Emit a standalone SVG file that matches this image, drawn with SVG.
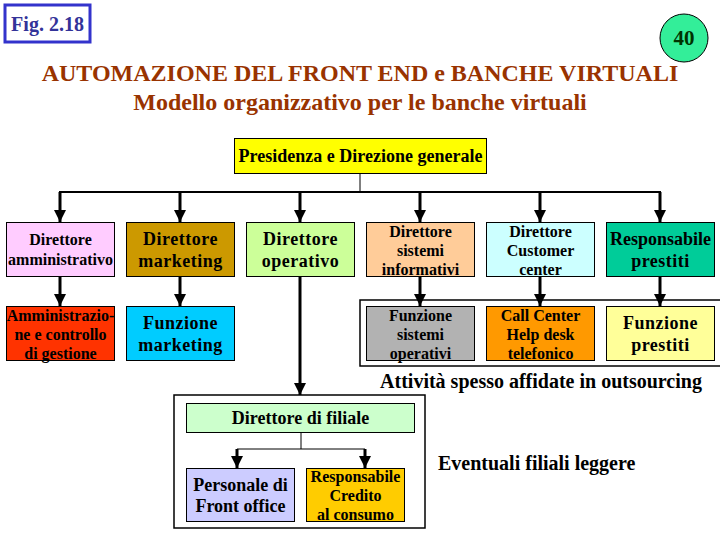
<svg xmlns="http://www.w3.org/2000/svg" width="720" height="540" viewBox="0 0 720 540">
<defs>
<marker id="ah" markerUnits="userSpaceOnUse" markerWidth="14" markerHeight="12" refX="12" refY="6" orient="auto">
<path d="M0,0 L12,6 L0,12 Z" fill="#000"/>
</marker>
<style>
text{font-family:"Liberation Serif","Times New Roman",serif;font-weight:bold}
.t{text-anchor:middle;fill:#000}
.s14{font-size:16px}
.s16{font-size:18px;letter-spacing:0.5px}
.box{stroke:#000;stroke-width:1}
.arr{stroke:#000;stroke-width:3;fill:none;marker-end:url(#ah)}
.ln{stroke:#000;stroke-width:2;fill:none}
.thin{stroke:#000;stroke-width:1;fill:none}
.ttl{text-anchor:middle;fill:#993300}
</style>
</defs>
<rect width="720" height="540" fill="#fff"/>

<g id="fig">
<rect x="5" y="5" width="85" height="37" fill="#fff" stroke="#3333cc" stroke-width="3"/>
<text x="47.5" y="31" font-size="20" text-anchor="middle" fill="#333399">Fig. 2.18</text>
</g>
<g id="num">
<circle cx="684" cy="38" r="24" fill="#33ee99" stroke="#000" stroke-width="1"/>
<text x="684" y="45" font-size="21" text-anchor="middle" fill="#003300">40</text>
</g>
<g id="title">
<text class="ttl" x="360" y="81" font-size="24">AUTOMAZIONE DEL FRONT END e BANCHE VIRTUALI</text>
<text class="ttl" x="360" y="110" font-size="24">Modello organizzativo per le banche virtuali</text>
</g>

<g id="containers">
<rect x="360" y="300" width="370" height="66" fill="none" stroke="#000" stroke-width="1.5"/>
<rect x="174" y="395" width="251" height="133" fill="none" stroke="#000" stroke-width="1.5"/>
</g>

<g id="connectors">
<line class="thin" x1="360" y1="174" x2="360" y2="192"/>
<line class="ln" x1="59" y1="192" x2="661" y2="192"/>
<line class="arr" x1="60" y1="192" x2="60" y2="222"/>
<line class="arr" x1="180" y1="192" x2="180" y2="222"/>
<line class="arr" x1="300" y1="192" x2="300" y2="222"/>
<line class="arr" x1="420" y1="192" x2="420" y2="222"/>
<line class="arr" x1="540" y1="192" x2="540" y2="222"/>
<line class="arr" x1="660" y1="192" x2="660" y2="222"/>
<line class="arr" x1="60" y1="277" x2="60" y2="306"/>
<line class="arr" x1="180" y1="277" x2="180" y2="306"/>
<line class="arr" x1="420" y1="277" x2="420" y2="306"/>
<line class="arr" x1="540" y1="277" x2="540" y2="306"/>
<line class="arr" x1="660" y1="277" x2="660" y2="306"/>
<line class="arr" x1="300" y1="277" x2="300" y2="395"/>
<line class="thin" x1="301" y1="433" x2="301" y2="449"/>
<line class="thin" x1="237" y1="449" x2="365" y2="449"/>
<line class="arr" x1="237" y1="449" x2="237" y2="468"/>
<line class="arr" x1="365" y1="449" x2="365" y2="468"/>
</g>

<g id="presidenza">
<rect class="box" x="234.5" y="138.5" width="252" height="35" fill="#ffff00"/>
<text class="t" x="360.5" y="162" font-size="18">Presidenza e Direzione generale</text>
</g>

<g id="dir-amm">
<rect class="box" x="6.5" y="222.5" width="108" height="54" fill="#ffccff"/>
<text class="t s14" x="60.5" y="245">Direttore</text>
<text class="t s14" x="60.5" y="265">amministrativo</text>
</g>
<g id="dir-mkt">
<rect class="box" x="126.5" y="222.5" width="108" height="54" fill="#cc9900"/>
<text class="t s16" x="180.5" y="245">Direttore</text>
<text class="t s16" x="180.5" y="267">marketing</text>
</g>
<g id="dir-op">
<rect class="box" x="246.5" y="222.5" width="108" height="54" fill="#ccff99"/>
<text class="t s16" x="300.5" y="245">Direttore</text>
<text class="t s16" x="300.5" y="267">operativo</text>
</g>
<g id="dir-si">
<rect class="box" x="366.5" y="222.5" width="108" height="54" fill="#ffcc99"/>
<text class="t s14" x="420.5" y="237">Direttore</text>
<text class="t s14" x="420.5" y="256">sistemi</text>
<text class="t s14" x="420.5" y="275">informativi</text>
</g>
<g id="dir-cc">
<rect class="box" x="486.5" y="222.5" width="108" height="54" fill="#ccffff"/>
<text class="t s14" x="540.5" y="237">Direttore</text>
<text class="t s14" x="540.5" y="256">Customer</text>
<text class="t s14" x="540.5" y="275">center</text>
</g>
<g id="resp-prestiti">
<rect class="box" x="606.5" y="222.5" width="108" height="54" fill="#00cc99"/>
<text class="t" x="660.5" y="245" font-size="18">Responsabile</text>
<text class="t s16" x="660.5" y="267">prestiti</text>
</g>

<g id="amministrazione">
<rect class="box" x="6.5" y="306.5" width="108" height="54" fill="#ff3300"/>
<text class="t s14" x="60.5" y="321">Amministrazio-</text>
<text class="t s14" x="60.5" y="340">ne e controllo</text>
<text class="t s14" x="60.5" y="359">di gestione</text>
</g>
<g id="funz-mkt">
<rect class="box" x="126.5" y="306.5" width="108" height="54" fill="#00ccff"/>
<text class="t s16" x="180.5" y="329">Funzione</text>
<text class="t s16" x="180.5" y="351">marketing</text>
</g>
<g id="funz-si">
<rect class="box" x="366.5" y="306.5" width="108" height="54" fill="#b2b2b2"/>
<text class="t s14" x="420.5" y="321">Funzione</text>
<text class="t s14" x="420.5" y="340">sistemi</text>
<text class="t s14" x="420.5" y="359">operativi</text>
</g>
<g id="call-center">
<rect class="box" x="486.5" y="306.5" width="108" height="54" fill="#ff9900"/>
<text class="t s14" x="540.5" y="321">Call Center</text>
<text class="t s14" x="540.5" y="340">Help desk</text>
<text class="t s14" x="540.5" y="359">telefonico</text>
</g>
<g id="funz-prestiti">
<rect class="box" x="606.5" y="306.5" width="108" height="54" fill="#ffff99"/>
<text class="t s16" x="660.5" y="329">Funzione</text>
<text class="t s16" x="660.5" y="351">prestiti</text>
</g>

<g id="outsourcing-label">
<text class="t" x="541" y="388" font-size="20">Attività spesso affidate in outsourcing</text>
</g>

<g id="dir-filiale">
<rect class="box" x="186.5" y="403.5" width="228" height="29" fill="#ccffcc"/>
<text class="t" x="300.5" y="424" font-size="18">Direttore di filiale</text>
</g>
<g id="front-office">
<rect class="box" x="186.5" y="468.5" width="108" height="53" fill="#ccccff"/>
<text class="t" x="240.5" y="491" font-size="18">Personale di</text>
<text class="t" x="240.5" y="512" font-size="18">Front office</text>
</g>
<g id="resp-credito">
<rect class="box" x="306.5" y="468.5" width="98" height="53" fill="#ffcc00"/>
<text class="t s14" x="355.5" y="482">Responsabile</text>
<text class="t s14" x="355.5" y="501">Credito</text>
<text class="t s14" x="355.5" y="520">al consumo</text>
</g>

<g id="filiali-label">
<text x="438" y="470" font-size="20" fill="#000">Eventuali filiali leggere</text>
</g>
</svg>
